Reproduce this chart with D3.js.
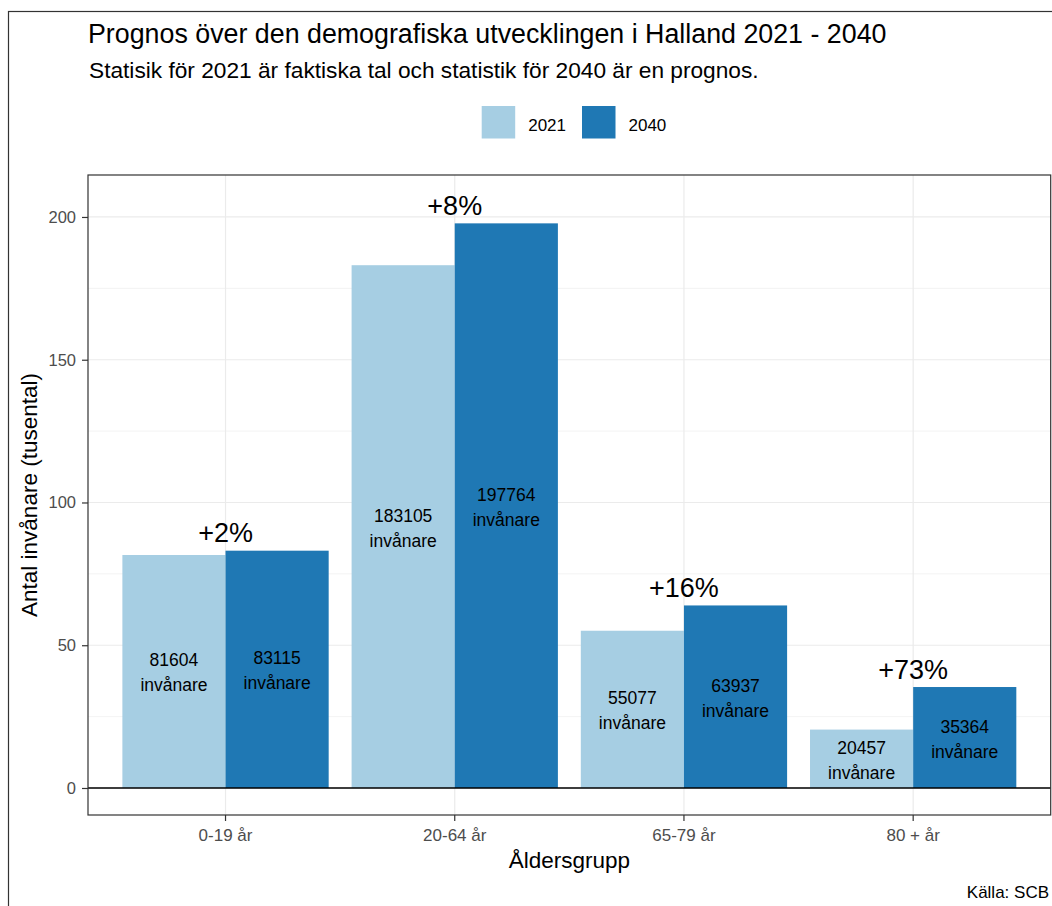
<!DOCTYPE html>
<html>
<head>
<meta charset="utf-8">
<script src="https://cdn.jsdelivr.net/npm/d3@7"></script>
<style>
  body { margin: 0; background: #fff; }
  svg { display: block; font-family: "Liberation Sans", Arial, sans-serif; }
</style>
</head>
<body>
<div id="chart"></div>
<script>
// Data
const ageGroups = ["0-19 år", "20-64 år", "65-79 år", "80 + år"];
const years = ["2021", "2040"];
const pop2021 = [81604, 183105, 55077, 20457];
const pop2040 = [83115, 197764, 63937, 35364];
const changeLabels = ["+2%", "+8%", "+16%", "+73%"];
const yTicks = [0, 50, 100, 150, 200];
const yMinorTicks = [25, 75, 125, 175];
const colors = ["#A6CEE3", "#1F78B4"];

const width = 1052,
    height = 906,
    margin = ({ top: 175, right: 1.3, bottom: 91, left: 88 });

const svg = d3.select("#chart")
    .append("svg")
    .attr("width", width)
    .attr("height", height);

// outer frame (only partly inside the picture)
svg.append("rect")
    .attr("x", 8.5).attr("y", 11.5)
    .attr("width", 1200).attr("height", 1200)
    .attr("fill", "none")
    .attr("stroke", "#333333")
    .attr("stroke-width", 1.2);

// long table for bars
const rows = [];
ageGroups.forEach((g, i) => {
    rows.push({ group: g, year: years[0], value: pop2021[i] });
    rows.push({ group: g, year: years[1], value: pop2040[i] });
});

// Scales
let x = d3.scaleBand()
    .domain(ageGroups)
    .range([margin.left, width - margin.right])
    .paddingInner(0)
    .paddingOuter(0.1);

let x1 = d3.scaleBand()
    .domain(years)
    .range([0.05 * x.bandwidth(), 0.95 * x.bandwidth()]);

let y = d3.scaleLinear()
    .domain([-9.46, 214.7])
    .range([height - margin.bottom, margin.top]);

let color = d3.scaleOrdinal().domain(years).range(colors);

const panelL = margin.left, panelR = width - margin.right,
    panelT = margin.top, panelB = height - margin.bottom;

// Grid lines
svg.append("g")
    .selectAll("line")
    .data(yMinorTicks)
    .join("line")
    .attr("x1", panelL).attr("x2", panelR)
    .attr("y1", d => y(d)).attr("y2", d => y(d))
    .attr("stroke", "#f0f0f0")
    .attr("stroke-width", 0.8);

svg.append("g")
    .selectAll("line")
    .data(yTicks)
    .join("line")
    .attr("x1", panelL).attr("x2", panelR)
    .attr("y1", d => y(d)).attr("y2", d => y(d))
    .attr("stroke", "#ebebeb")
    .attr("stroke-width", 1.2);

svg.append("g")
    .selectAll("line")
    .data(ageGroups)
    .join("line")
    .attr("x1", d => x(d) + x.bandwidth() / 2)
    .attr("x2", d => x(d) + x.bandwidth() / 2)
    .attr("y1", panelT).attr("y2", panelB)
    .attr("stroke", "#ebebeb")
    .attr("stroke-width", 1.2);

// Bars
svg.append("g")
    .selectAll("rect")
    .data(rows)
    .join("rect")
    .attr("x", d => x(d.group) + x1(d.year))
    .attr("y", d => y(d.value / 1000))
    .attr("width", x1.bandwidth())
    .attr("height", d => y(0) - y(d.value / 1000))
    .attr("fill", d => color(d.year));

// Value labels inside bars
const lbl = svg.append("g")
    .selectAll("text")
    .data(rows)
    .join("text")
    .attr("text-anchor", "middle")
    .attr("font-size", 17.5)
    .attr("fill", "#000");
lbl.append("tspan")
    .attr("x", d => x(d.group) + x1(d.year) + x1.bandwidth() / 2)
    .attr("y", d => y(d.value / 2000) - 5)
    .text(d => d.value);
lbl.append("tspan")
    .attr("x", d => x(d.group) + x1(d.year) + x1.bandwidth() / 2)
    .attr("y", d => y(d.value / 2000) + 20)
    .text("invånare");

// Percent change labels
svg.append("g")
    .selectAll("text")
    .data(ageGroups)
    .join("text")
    .attr("x", d => x(d) + x.bandwidth() / 2)
    .attr("y", (d, i) => y(Math.max(pop2021[i], pop2040[i]) / 1000) - 8.5)
    .attr("text-anchor", "middle")
    .attr("font-size", 27)
    .attr("fill", "#000")
    .text((d, i) => changeLabels[i]);

// zero line
svg.append("line")
    .attr("x1", panelL).attr("x2", panelR)
    .attr("y1", y(0)).attr("y2", y(0))
    .attr("stroke", "#000")
    .attr("stroke-width", 1.3);

// Panel border
svg.append("rect")
    .attr("x", panelL).attr("y", panelT)
    .attr("width", panelR - panelL).attr("height", panelB - panelT)
    .attr("fill", "none")
    .attr("stroke", "#333333")
    .attr("stroke-width", 1.2);

// Y axis
const yAxis = svg.append("g")
    .attr("transform", `translate(${panelL},0)`)
    .call(d3.axisLeft(y).tickValues(yTicks).tickSize(6).tickPadding(6).tickSizeOuter(0));
yAxis.select(".domain").remove();
yAxis.selectAll(".tick line").attr("stroke", "#333333").attr("stroke-width", 1.2);
yAxis.selectAll(".tick text")
    .attr("font-family", null)
    .attr("font-size", 16.5)
    .attr("fill", "#4d4d4d");

// X axis
const xAxis = svg.append("g")
    .attr("transform", `translate(0,${panelB})`)
    .call(d3.axisBottom(x).tickSize(6).tickPadding(8).tickSizeOuter(0));
xAxis.select(".domain").remove();
xAxis.selectAll(".tick line").attr("stroke", "#333333").attr("stroke-width", 1.2);
xAxis.selectAll(".tick text")
    .attr("font-family", null)
    .attr("font-size", 17)
    .attr("fill", "#4d4d4d");

// Axis titles
svg.append("text")
    .attr("x", (panelL + panelR) / 2)
    .attr("y", 868)
    .attr("text-anchor", "middle")
    .attr("font-size", 22.5)
    .text("Åldersgrupp");

svg.append("text")
    .attr("transform", `translate(37,${(panelT + panelB) / 2}) rotate(-90)`)
    .attr("text-anchor", "middle")
    .attr("font-size", 22.5)
    .text("Antal invånare (tusental)");

// Titles
svg.append("text")
    .attr("x", 88).attr("y", 43)
    .attr("font-size", 26.8)
    .text("Prognos över den demografiska utvecklingen i Halland 2021 - 2040");

svg.append("text")
    .attr("x", 89).attr("y", 78)
    .attr("font-size", 22.7)
    .text("Statisik för 2021 är faktiska tal och statistik för 2040 är en prognos.");

// Legend
const legendX = [481.7, 582];
const leg = svg.append("g")
    .selectAll("g")
    .data(years)
    .join("g")
    .attr("transform", (d, i) => `translate(${legendX[i]},106)`);
leg.append("rect")
    .attr("width", 33.5).attr("height", 32.5)
    .attr("fill", d => color(d));
leg.append("text")
    .attr("x", 46.5).attr("y", 24.7)
    .attr("font-size", 17)
    .text(d => d);

// Caption
svg.append("text")
    .attr("x", 1049).attr("y", 898)
    .attr("text-anchor", "end")
    .attr("font-size", 17)
    .text("Källa: SCB");
</script>
</body>
</html>
